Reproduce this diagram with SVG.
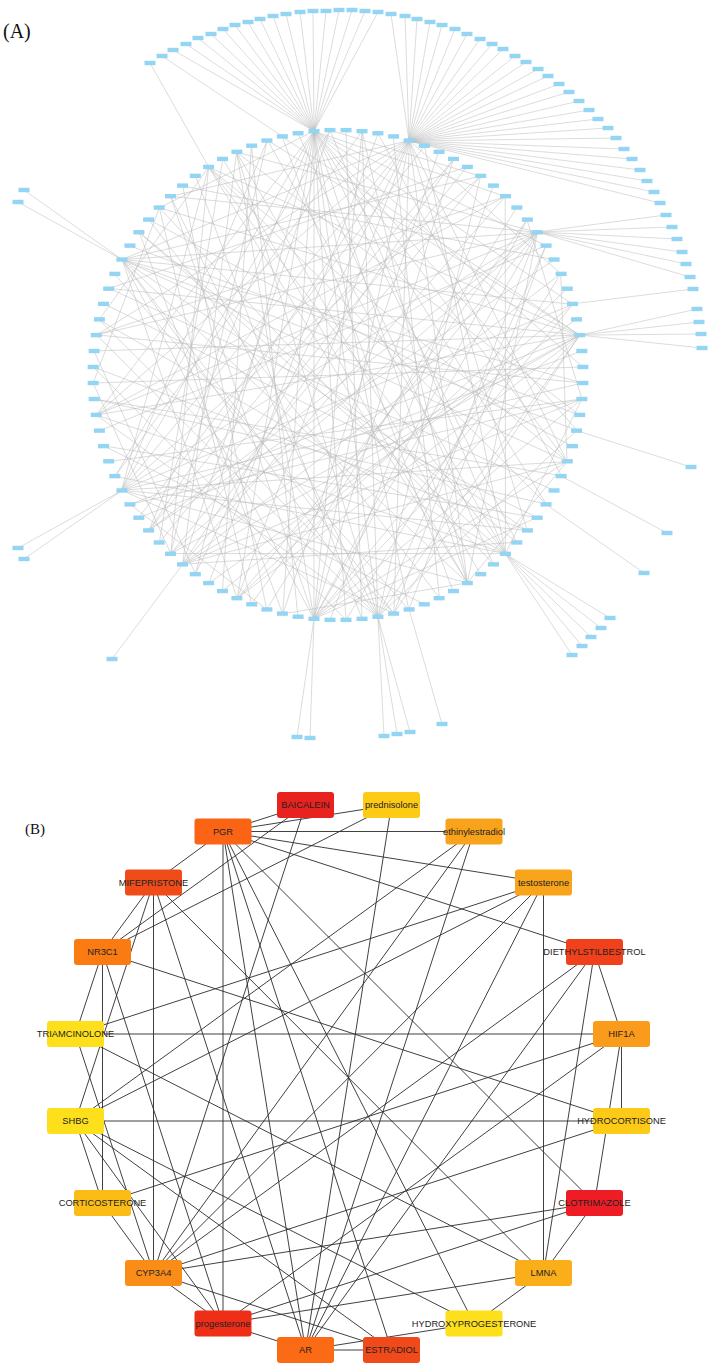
<svg xmlns="http://www.w3.org/2000/svg" width="714" height="1370" viewBox="0 0 714 1370">
<style>
.lbl{font-family:"Liberation Serif","Times New Roman",serif;fill:#111}
.ae{stroke:#b8b8b8;stroke-width:0.5;fill:none}
.an{fill:#93d5f2}
.be{stroke:#2b2b2b;stroke-width:0.9;fill:none}
.bn text{font-family:"Liberation Sans",Arial,sans-serif;font-size:9.3px;fill:#222;text-anchor:middle}
</style>
<defs><rect id="an" class="an" x="-5.5" y="-2.2" width="11" height="4.4"/></defs>
<rect width="714" height="1370" fill="#fff"/>
<text class="lbl" x="3" y="38" font-size="20">(A)</text>
<text class="lbl" x="25" y="834" font-size="15">(B)</text>

<g id="edges-A">
<g transform="rotate(-1.875 338 375)">
<path class="ae" d="M322 130.5L511 202M322 130.5L550 252.5M322 130.5L575 312M322 130.5L583 375M322 130.5L575 438M322 130.5L564 469M322 130.5L542 511M322 130.5L511 548M322 130.5L460.5 587M322 130.5L401 612M322 130.5L370 618M322 130.5L338 620M322 130.5L306 618M322 130.5L275 612M322 130.5L230 595M322 130.5L189 569M322 130.5L144 524M322 130.5L112 469M322 130.5L95 407"/>
<path class="ae" d="M417 143L564 469M417 143L522 536.5M417 143L460.5 587M417 143L386 615M417 143L306 618M417 143L230 595M417 143L189 569M417 143L144 524M417 143L118 483M417 143L95 407M417 143L98 327M417 143L126 252.5M417 143L176.5 191"/>
<path class="ae" d="M542 239L460.5 587M542 239L386 615M542 239L306 618M542 239L230 595M542 239L165 548M542 239L144 524M542 239L118 483M542 239L95 407M542 239L98 327M542 239L126 252.5M542 239L176.5 191M542 239L244 149"/>
<path class="ae" d="M126 252.5L487 181M126 252.5L575 312M126 252.5L582.5 391M126 252.5L575 438M126 252.5L564 469M126 252.5L522 536.5M126 252.5L460.5 587M126 252.5L386 615M126 252.5L306 618M126 252.5L230 595"/>
<path class="ae" d="M118 483L338 130M118 483L487 181M118 483L575 312M118 483L582.5 391M118 483L564 469M118 483L522 536.5M118 483L460.5 587M118 483L386 615M118 483L215.5 163M118 483L275 138"/>
<path class="ae" d="M176.5 559L244 149M176.5 559L338 130M176.5 559L460.5 163M176.5 559L511 202M176.5 559L564 281M176.5 559L581 343M176.5 559L581 407M176.5 559L564 469M176.5 559L511 548"/>
<path class="ae" d="M306 618L176.5 191M306 618L244 149M306 618L370 132M306 618L460.5 163M306 618L532 226M306 618L575 312M306 618L581 407M306 618L564 469M306 618L532 524"/>
<path class="ae" d="M370 618L95 407M370 618L98 327M370 618L126 252.5M370 618L176.5 191M370 618L244 149M370 618L370 132M370 618L487 181M370 618L550 252.5M370 618L581 343M370 618L575 438"/>
<path class="ae" d="M499.5 559L165 548M499.5 559L112 469M499.5 559L95 407M499.5 559L101 312M499.5 559L144 226M499.5 559L215.5 163M499.5 559L275 138M499.5 559L338 130M499.5 559L432 149M499.5 559L511 202"/>
<path class="ae" d="M581 343L386 615M581 343L306 618M581 343L230 595M581 343L165 548M581 343L126 497.5M581 343L95 407M581 343L95 343M581 343L112 281M581 343L165 202M581 343L215.5 163M581 343L275 138"/>
<path class="ae" d="M215.5 163L564 469M215.5 163L460.5 587M215.5 163L165 548"/>
<path class="ae" d="M370 132L460.5 587M446 155L275 612M487 181L165 548M511 202L95 407M558 267L144 524M582.5 391L98 327M578 423L244 149M550 497.5L112 281M487 569L165 202M446 595L290 135M417 607L101 438M259 607L189 181M202 579L386 135M144 524L460.5 163M106 454L581 407M93 375L583 375M98 327L511 202M106 296L532 524M154 213.5L432 601M202 171L354 619.5M259 143L215.5 587M306 132L487 569M570 296L230 595M581 407L126 497.5M542 511L215.5 163M570 454L154 213.5M522 213.5L259 607M474 171L154 536.5M522 536.5L93.5 359M474 579L244 149M401 612L118 267M338 620L564 281M244 601L532 226M189 569L95 343M134 511L432 149M101 438L532 524M101 312L386 615M144 226L275 612M230 155L460.5 587M290 135L581 343M354 130.5L354 619.5M386 135L558 483M499.5 191L322 619.5M550 252.5L401 612M578 327L202 579M582.5 359L134 511M558 483L93.5 391M511 548L144 226M432 601L401 138M290 615L259 143M215.5 587L575 312M154 536.5L230 155M112 469L370 132M98 423L550 252.5M93.5 391L542 511M93.5 359L338 620M112 281L474 171M134 239L578 423M165 202L244 601M189 181L558 267M275 138L165 548"/>
<path class="ae" d="M338 130L487 181M532 226L581 407M564 469L460.5 587M460.5 587L275 612M165 548L93 375M93 375L165 202M165 202L322 130.5M581 407L499.5 559M259 607L126 497.5M101 312L215.5 163M417 143L564 281M564 281L564 469"/>
</g>
<path class="ae" d="M314 131L173 50M314 131L186 44M314 131L198 38M314 131L211 34M314 131L223 29M314 131L235 25M314 131L248 22M314 131L260 19M314 131L273 16M314 131L286 14M314 131L300 12M314 131L313 11M314 131L326 11M314 131L339 10M314 131L352 10M314 131L365 11M314 131L378 12"/>
<path class="ae" d="M409 141L391 14M409 141L405 16M409 141L417 19M409 141L430 22M409 141L442 25M409 141L455 29M409 141L467 34M409 141L480 39M409 141L492 44M409 141L503 49M409 141L515 56M409 141L526 62M409 141L538 69M409 141L548 76M409 141L559 84M409 141L569 92M409 141L579 101M409 141L589 110M409 141L598 119M409 141L608 128M409 141L616 138M409 141L624 149M409 141L632 159M409 141L640 170M409 141L647 181M409 141L654 192M409 141L660 203"/>
<path class="ae" d="M208.6 166.9L150 63M282.4 136.4L162 56M121.9 259.5L24 190M121.9 259.5L18 202M537 232L666 215M537 232L672 227M537 232L677 239M537 232L682 252M537 232L686 264M537 232L690 277M572.4 303.9L693 289M579.7 335.1L697 309M579.7 335.1L699 322M579.7 335.1L701 334M579.7 335.1L702 348M576.6 430.6L691 467M561.2 476.1L667 533M546.1 504.4L644 573M505.4 553.9L610 618M505.4 553.9L601 628M505.4 553.9L591 637M505.4 553.9L582 646M505.4 553.9L572 655M377.9 616.7L384 736M377.9 616.7L397 734M377.9 616.7L410 732M409.1 609.4L442 724M314 618.8L297 737M314 618.8L310 738M182.6 564.4L112 659M121.9 490.5L18 548M121.9 490.5L24 559"/>
</g>

<g id="nodes-A-outer">
<use href="#an" x="173" y="50"/><use href="#an" x="186" y="44"/><use href="#an" x="198" y="38"/><use href="#an" x="211" y="34"/><use href="#an" x="223" y="29"/><use href="#an" x="235" y="25"/><use href="#an" x="248" y="22"/><use href="#an" x="260" y="19"/><use href="#an" x="273" y="16"/><use href="#an" x="286" y="14"/><use href="#an" x="300" y="12"/><use href="#an" x="313" y="11"/><use href="#an" x="326" y="11"/><use href="#an" x="339" y="10"/><use href="#an" x="352" y="10"/><use href="#an" x="365" y="11"/><use href="#an" x="378" y="12"/>
<use href="#an" x="391" y="14"/><use href="#an" x="405" y="16"/><use href="#an" x="417" y="19"/><use href="#an" x="430" y="22"/><use href="#an" x="442" y="25"/><use href="#an" x="455" y="29"/><use href="#an" x="467" y="34"/><use href="#an" x="480" y="39"/><use href="#an" x="492" y="44"/><use href="#an" x="503" y="49"/><use href="#an" x="515" y="56"/><use href="#an" x="526" y="62"/><use href="#an" x="538" y="69"/><use href="#an" x="548" y="76"/><use href="#an" x="559" y="84"/><use href="#an" x="569" y="92"/><use href="#an" x="579" y="101"/><use href="#an" x="589" y="110"/><use href="#an" x="598" y="119"/><use href="#an" x="608" y="128"/><use href="#an" x="616" y="138"/><use href="#an" x="624" y="149"/><use href="#an" x="632" y="159"/><use href="#an" x="640" y="170"/><use href="#an" x="647" y="181"/><use href="#an" x="654" y="192"/><use href="#an" x="660" y="203"/>
<use href="#an" x="150" y="63"/><use href="#an" x="162" y="56"/><use href="#an" x="24" y="190"/><use href="#an" x="18" y="202"/>
<use href="#an" x="666" y="215"/><use href="#an" x="672" y="227"/><use href="#an" x="677" y="239"/><use href="#an" x="682" y="252"/><use href="#an" x="686" y="264"/><use href="#an" x="690" y="277"/><use href="#an" x="693" y="289"/>
<use href="#an" x="697" y="309"/><use href="#an" x="699" y="322"/><use href="#an" x="701" y="334"/><use href="#an" x="702" y="348"/>
<use href="#an" x="691" y="467"/><use href="#an" x="667" y="533"/><use href="#an" x="644" y="573"/>
<use href="#an" x="610" y="618"/><use href="#an" x="601" y="628"/><use href="#an" x="591" y="637"/><use href="#an" x="582" y="646"/><use href="#an" x="572" y="655"/>
<use href="#an" x="384" y="736"/><use href="#an" x="397" y="734"/><use href="#an" x="410" y="732"/><use href="#an" x="442" y="724"/><use href="#an" x="297" y="737"/><use href="#an" x="310" y="738"/>
<use href="#an" x="112" y="659"/><use href="#an" x="18" y="548"/><use href="#an" x="24" y="559"/>
</g>

<g id="nodes-A-ring" transform="translate(338 375)">
<use href="#an" transform="rotate(-1.875) translate(0 -245) rotate(1.875)"/>
<use href="#an" transform="rotate(1.875) translate(0 -245) rotate(-1.875)"/>
<use href="#an" transform="rotate(5.625) translate(0 -245) rotate(-5.625)"/>
<use href="#an" transform="rotate(9.375) translate(0 -245) rotate(-9.375)"/>
<use href="#an" transform="rotate(13.125) translate(0 -245) rotate(-13.125)"/>
<use href="#an" transform="rotate(16.875) translate(0 -245) rotate(-16.875)"/>
<use href="#an" transform="rotate(20.625) translate(0 -245) rotate(-20.625)"/>
<use href="#an" transform="rotate(24.375) translate(0 -245) rotate(-24.375)"/>
<use href="#an" transform="rotate(28.125) translate(0 -245) rotate(-28.125)"/>
<use href="#an" transform="rotate(31.875) translate(0 -245) rotate(-31.875)"/>
<use href="#an" transform="rotate(35.625) translate(0 -245) rotate(-35.625)"/>
<use href="#an" transform="rotate(39.375) translate(0 -245) rotate(-39.375)"/>
<use href="#an" transform="rotate(43.125) translate(0 -245) rotate(-43.125)"/>
<use href="#an" transform="rotate(46.875) translate(0 -245) rotate(-46.875)"/>
<use href="#an" transform="rotate(50.625) translate(0 -245) rotate(-50.625)"/>
<use href="#an" transform="rotate(54.375) translate(0 -245) rotate(-54.375)"/>
<use href="#an" transform="rotate(58.125) translate(0 -245) rotate(-58.125)"/>
<use href="#an" transform="rotate(61.875) translate(0 -245) rotate(-61.875)"/>
<use href="#an" transform="rotate(65.625) translate(0 -245) rotate(-65.625)"/>
<use href="#an" transform="rotate(69.375) translate(0 -245) rotate(-69.375)"/>
<use href="#an" transform="rotate(73.125) translate(0 -245) rotate(-73.125)"/>
<use href="#an" transform="rotate(76.875) translate(0 -245) rotate(-76.875)"/>
<use href="#an" transform="rotate(80.625) translate(0 -245) rotate(-80.625)"/>
<use href="#an" transform="rotate(84.375) translate(0 -245) rotate(-84.375)"/>
<use href="#an" transform="rotate(88.125) translate(0 -245) rotate(-88.125)"/>
<use href="#an" transform="rotate(91.875) translate(0 -245) rotate(-91.875)"/>
<use href="#an" transform="rotate(95.625) translate(0 -245) rotate(-95.625)"/>
<use href="#an" transform="rotate(99.375) translate(0 -245) rotate(-99.375)"/>
<use href="#an" transform="rotate(103.125) translate(0 -245) rotate(-103.125)"/>
<use href="#an" transform="rotate(106.875) translate(0 -245) rotate(-106.875)"/>
<use href="#an" transform="rotate(110.625) translate(0 -245) rotate(-110.625)"/>
<use href="#an" transform="rotate(114.375) translate(0 -245) rotate(-114.375)"/>
<use href="#an" transform="rotate(118.125) translate(0 -245) rotate(-118.125)"/>
<use href="#an" transform="rotate(121.875) translate(0 -245) rotate(-121.875)"/>
<use href="#an" transform="rotate(125.625) translate(0 -245) rotate(-125.625)"/>
<use href="#an" transform="rotate(129.375) translate(0 -245) rotate(-129.375)"/>
<use href="#an" transform="rotate(133.125) translate(0 -245) rotate(-133.125)"/>
<use href="#an" transform="rotate(136.875) translate(0 -245) rotate(-136.875)"/>
<use href="#an" transform="rotate(140.625) translate(0 -245) rotate(-140.625)"/>
<use href="#an" transform="rotate(144.375) translate(0 -245) rotate(-144.375)"/>
<use href="#an" transform="rotate(148.125) translate(0 -245) rotate(-148.125)"/>
<use href="#an" transform="rotate(151.875) translate(0 -245) rotate(-151.875)"/>
<use href="#an" transform="rotate(155.625) translate(0 -245) rotate(-155.625)"/>
<use href="#an" transform="rotate(159.375) translate(0 -245) rotate(-159.375)"/>
<use href="#an" transform="rotate(163.125) translate(0 -245) rotate(-163.125)"/>
<use href="#an" transform="rotate(166.875) translate(0 -245) rotate(-166.875)"/>
<use href="#an" transform="rotate(170.625) translate(0 -245) rotate(-170.625)"/>
<use href="#an" transform="rotate(174.375) translate(0 -245) rotate(-174.375)"/>
<use href="#an" transform="rotate(178.125) translate(0 -245) rotate(-178.125)"/>
<use href="#an" transform="rotate(181.875) translate(0 -245) rotate(-181.875)"/>
<use href="#an" transform="rotate(185.625) translate(0 -245) rotate(-185.625)"/>
<use href="#an" transform="rotate(189.375) translate(0 -245) rotate(-189.375)"/>
<use href="#an" transform="rotate(193.125) translate(0 -245) rotate(-193.125)"/>
<use href="#an" transform="rotate(196.875) translate(0 -245) rotate(-196.875)"/>
<use href="#an" transform="rotate(200.625) translate(0 -245) rotate(-200.625)"/>
<use href="#an" transform="rotate(204.375) translate(0 -245) rotate(-204.375)"/>
<use href="#an" transform="rotate(208.125) translate(0 -245) rotate(-208.125)"/>
<use href="#an" transform="rotate(211.875) translate(0 -245) rotate(-211.875)"/>
<use href="#an" transform="rotate(215.625) translate(0 -245) rotate(-215.625)"/>
<use href="#an" transform="rotate(219.375) translate(0 -245) rotate(-219.375)"/>
<use href="#an" transform="rotate(223.125) translate(0 -245) rotate(-223.125)"/>
<use href="#an" transform="rotate(226.875) translate(0 -245) rotate(-226.875)"/>
<use href="#an" transform="rotate(230.625) translate(0 -245) rotate(-230.625)"/>
<use href="#an" transform="rotate(234.375) translate(0 -245) rotate(-234.375)"/>
<use href="#an" transform="rotate(238.125) translate(0 -245) rotate(-238.125)"/>
<use href="#an" transform="rotate(241.875) translate(0 -245) rotate(-241.875)"/>
<use href="#an" transform="rotate(245.625) translate(0 -245) rotate(-245.625)"/>
<use href="#an" transform="rotate(249.375) translate(0 -245) rotate(-249.375)"/>
<use href="#an" transform="rotate(253.125) translate(0 -245) rotate(-253.125)"/>
<use href="#an" transform="rotate(256.875) translate(0 -245) rotate(-256.875)"/>
<use href="#an" transform="rotate(260.625) translate(0 -245) rotate(-260.625)"/>
<use href="#an" transform="rotate(264.375) translate(0 -245) rotate(-264.375)"/>
<use href="#an" transform="rotate(268.125) translate(0 -245) rotate(-268.125)"/>
<use href="#an" transform="rotate(271.875) translate(0 -245) rotate(-271.875)"/>
<use href="#an" transform="rotate(275.625) translate(0 -245) rotate(-275.625)"/>
<use href="#an" transform="rotate(279.375) translate(0 -245) rotate(-279.375)"/>
<use href="#an" transform="rotate(283.125) translate(0 -245) rotate(-283.125)"/>
<use href="#an" transform="rotate(286.875) translate(0 -245) rotate(-286.875)"/>
<use href="#an" transform="rotate(290.625) translate(0 -245) rotate(-290.625)"/>
<use href="#an" transform="rotate(294.375) translate(0 -245) rotate(-294.375)"/>
<use href="#an" transform="rotate(298.125) translate(0 -245) rotate(-298.125)"/>
<use href="#an" transform="rotate(301.875) translate(0 -245) rotate(-301.875)"/>
<use href="#an" transform="rotate(305.625) translate(0 -245) rotate(-305.625)"/>
<use href="#an" transform="rotate(309.375) translate(0 -245) rotate(-309.375)"/>
<use href="#an" transform="rotate(313.125) translate(0 -245) rotate(-313.125)"/>
<use href="#an" transform="rotate(316.875) translate(0 -245) rotate(-316.875)"/>
<use href="#an" transform="rotate(320.625) translate(0 -245) rotate(-320.625)"/>
<use href="#an" transform="rotate(324.375) translate(0 -245) rotate(-324.375)"/>
<use href="#an" transform="rotate(328.125) translate(0 -245) rotate(-328.125)"/>
<use href="#an" transform="rotate(331.875) translate(0 -245) rotate(-331.875)"/>
<use href="#an" transform="rotate(335.625) translate(0 -245) rotate(-335.625)"/>
<use href="#an" transform="rotate(339.375) translate(0 -245) rotate(-339.375)"/>
<use href="#an" transform="rotate(343.125) translate(0 -245) rotate(-343.125)"/>
<use href="#an" transform="rotate(346.875) translate(0 -245) rotate(-346.875)"/>
<use href="#an" transform="rotate(350.625) translate(0 -245) rotate(-350.625)"/>
<use href="#an" transform="rotate(354.375) translate(0 -245) rotate(-354.375)"/>
</g>

<g id="edges-B">
<path class="be" d="M223 831.5L305.5 805M223 831.5L391.5 805M223 831.5L474 831.5M223 831.5L543.5 882.5M223 831.5L594.5 952M223 831.5L223 1323.5M223 831.5L391.5 1350M223 831.5L474 1323.5M223 831.5L594.5 1203M223 831.5L153.5 882.5M223 831.5L305.5 1350
M102.5 952L305.5 805M102.5 952L391.5 805M102.5 952L153.5 882.5M102.5 952L75.5 1034M102.5 952L102.5 1203M102.5 952L621.5 1121M102.5 952L223 1323.5
M153.5 882.5L153.5 1273M153.5 882.5L305.5 1350M153.5 882.5L543.5 1273M153.5 882.5L75.5 1121
M305.5 805L153.5 1273M391.5 805L305.5 1350
M474 831.5L75.5 1121M474 831.5L153.5 1273M474 831.5L305.5 1350
M543.5 882.5L543.5 1273M543.5 882.5L75.5 1121M543.5 882.5L305.5 1350M543.5 882.5L153.5 1273M543.5 882.5L75.5 1034
M594.5 952L621.5 1034M594.5 952L543.5 1273M594.5 952L153.5 1273M594.5 952L305.5 1350
M621.5 1034L75.5 1034M621.5 1034L621.5 1121M621.5 1034L594.5 1203M621.5 1034L102.5 1203M621.5 1034L223 1323.5
M621.5 1121L75.5 1121M621.5 1121L153.5 1273
M594.5 1203L543.5 1273M594.5 1203L153.5 1273M594.5 1203L223 1323.5
M543.5 1273L223 1323.5M543.5 1273L474 1323.5M543.5 1273L75.5 1034
M305.5 1350L474 1323.5M305.5 1350L391.5 1350M305.5 1350L223 1323.5
M75.5 1121L102.5 1203M75.5 1121L391.5 1350M75.5 1121L474 1323.5M75.5 1121L223 1323.5
M153.5 1273L102.5 1203M153.5 1273L223 1323.5M153.5 1273L391.5 1350M153.5 1273L75.5 1034"/>
</g>

<g id="n-BAICALEIN" class="bn"><rect x="277" y="792" width="57" height="26" rx="3" fill="#e8221f"/><text x="305.5" y="808.3">BAICALEIN</text></g>
<g id="n-prednisolone" class="bn"><rect x="363" y="792" width="57" height="26" rx="3" fill="#fdca16"/><text x="391.5" y="808.3">prednisolone</text></g>
<g id="n-ethinylestradiol" class="bn"><rect x="445.5" y="818.5" width="57" height="26" rx="3" fill="#f8a31b"/><text x="474" y="834.8">ethinylestradiol</text></g>
<g id="n-testosterone" class="bn"><rect x="515" y="869.5" width="57" height="26" rx="3" fill="#f9a51b"/><text x="543.5" y="885.8">testosterone</text></g>
<g id="n-DIETHYLSTILBESTROL" class="bn"><rect x="566" y="939" width="57" height="26" rx="3" fill="#f0401c"/><text x="594.5" y="955.3">DIETHYLSTILBESTROL</text></g>
<g id="n-HIF1A" class="bn"><rect x="593" y="1021" width="57" height="26" rx="3" fill="#fb9b1b"/><text x="621.5" y="1037.3">HIF1A</text></g>
<g id="n-HYDROCORTISONE" class="bn"><rect x="593" y="1108" width="57" height="26" rx="3" fill="#fdcb17"/><text x="621.5" y="1124.3">HYDROCORTISONE</text></g>
<g id="n-CLOTRIMAZOLE" class="bn"><rect x="566" y="1190" width="57" height="26" rx="3" fill="#ee1c24"/><text x="594.5" y="1206.3">CLOTRIMAZOLE</text></g>
<g id="n-LMNA" class="bn"><rect x="515" y="1260" width="57" height="26" rx="3" fill="#f9ae1a"/><text x="543.5" y="1276.3">LMNA</text></g>
<g id="n-HYDROXYPROGESTERONE" class="bn"><rect x="445.5" y="1310.5" width="57" height="26" rx="3" fill="#fde01b"/><text x="474" y="1326.8">HYDROXYPROGESTERONE</text></g>
<g id="n-ESTRADIOL" class="bn"><rect x="363" y="1337" width="57" height="26" rx="3" fill="#f04a1b"/><text x="391.5" y="1353.3">ESTRADIOL</text></g>
<g id="n-AR" class="bn"><rect x="277" y="1337" width="57" height="26" rx="3" fill="#fb6a14"/><text x="305.5" y="1353.3">AR</text></g>
<g id="n-progesterone" class="bn"><rect x="194.5" y="1310.5" width="57" height="26" rx="3" fill="#ee2e17"/><text x="223" y="1326.8">progesterone</text></g>
<g id="n-CYP3A4" class="bn"><rect x="125" y="1260" width="57" height="26" rx="3" fill="#f98d18"/><text x="153.5" y="1276.3">CYP3A4</text></g>
<g id="n-CORTICOSTERONE" class="bn"><rect x="74" y="1190" width="57" height="26" rx="3" fill="#fbbc16"/><text x="102.5" y="1206.3">CORTICOSTERONE</text></g>
<g id="n-SHBG" class="bn"><rect x="47" y="1108" width="57" height="26" rx="3" fill="#fde01b"/><text x="75.5" y="1124.3">SHBG</text></g>
<g id="n-TRIAMCINOLONE" class="bn"><rect x="47" y="1021" width="57" height="26" rx="3" fill="#fde01b"/><text x="75.5" y="1037.3">TRIAMCINOLONE</text></g>
<g id="n-NR3C1" class="bn"><rect x="74" y="939" width="57" height="26" rx="3" fill="#f97b12"/><text x="102.5" y="955.3">NR3C1</text></g>
<g id="n-MIFEPRISTONE" class="bn"><rect x="125" y="869.5" width="57" height="26" rx="3" fill="#ef4c1a"/><text x="153.5" y="885.8">MIFEPRISTONE</text></g>
<g id="n-PGR" class="bn"><rect x="194.5" y="818.5" width="57" height="26" rx="3" fill="#fb6414"/><text x="223" y="834.8">PGR</text></g>
</svg>
